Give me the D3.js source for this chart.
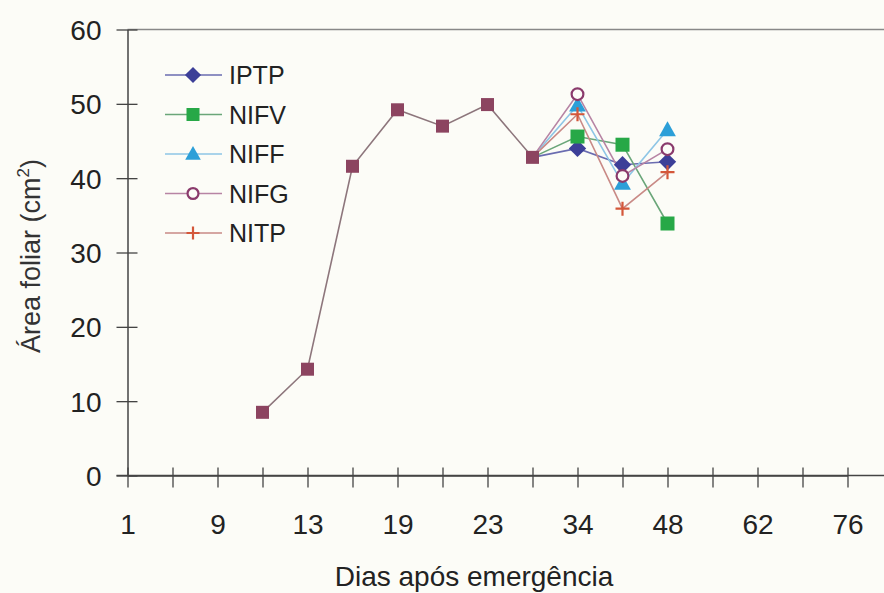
<!DOCTYPE html>
<html>
<head>
<meta charset="utf-8">
<script src="https://cdn.jsdelivr.net/npm/d3@7"></script>
<style>
  html, body { margin: 0; padding: 0; background: #fcfcf7; }
  svg { display: block; font-family: "Liberation Sans", Arial, sans-serif; }
</style>
</head>
<body>
<svg id="chart" width="884" height="593"></svg>
<script>
// Axis labels: one label on every second slot of the category axis
const tickLabels = ["1", "9", "13", "19", "23", "34", "48", "62", "76"];
const slotCount = 17;

// Readings common to all treatments (slot index on the category axis)
const sharedSlots = [3, 4, 5, 6, 7, 8, 9];
const sharedValues = [8.5, 14.3, 41.6, 49.2, 47.0, 49.9, 42.8];

// Readings after the treatments diverge
const branchSlots = [10, 11, 12];
const seriesNames = ["IPTP", "NIFV", "NIFF", "NIFG", "NITP"];
const iptpValues = [44.0, 41.8, 42.2];
const nifvValues = [45.6, 44.5, 33.9];
const niffValues = [49.8, 39.3, 46.5];
const nifgValues = [51.3, 40.3, 43.9];
const nitpValues = [48.6, 35.9, 40.8];

const yTicks = [0, 10, 20, 30, 40, 50, 60];

const styles = {
  IPTP: { color: "#3c3f98", line: "#6a6cb0", shape: "diamond" },
  NIFV: { color: "#27a847", line: "#6aa679", shape: "square" },
  NIFF: { color: "#2c9fd8", line: "#8ec6e6", shape: "triangle" },
  NIFG: { color: "#8a3a6c", line: "#b784a4", shape: "circle" },
  NITP: { color: "#d4573a", line: "#c98a86", shape: "cross" }
};
const sharedColor = "#8c4460";
const sharedLine = "#8d767c";

const seriesValues = {
  IPTP: iptpValues, NIFV: nifvValues, NIFF: niffValues,
  NIFG: nifgValues, NITP: nitpValues
};

const svg = d3.select("#chart");
const plotLeft = 127.5, plotTop = 29.5, plotBottom = 475.5, plotRight = 892;

const x = d3.scaleLinear().domain([0, slotCount - 1]).range([plotLeft, plotLeft + 45 * (slotCount - 1)]);
const y = d3.scaleLinear().domain([0, 60]).range([plotBottom, plotTop]);

const axisColor = "#444";
const textColor = "#222";

// Top frame line
svg.append("line")
  .attr("x1", plotLeft).attr("x2", plotRight).attr("y1", plotTop).attr("y2", plotTop)
  .attr("stroke", "#888").attr("stroke-width", 1.5);

// Y axis with ticks crossing the line
const yAxis = svg.append("g").attr("transform", `translate(${plotLeft},0)`)
  .call(d3.axisLeft(y).tickValues(yTicks).tickSize(0).tickPadding(26));
yAxis.select(".domain").attr("stroke", axisColor).attr("stroke-width", 1.5);
yAxis.selectAll(".tick text")
  .attr("font-size", 28).attr("fill", textColor).attr("font-family", "Liberation Sans, Arial, sans-serif")
  .attr("dy", "0.36em");
yAxis.selectAll(".tick").append("line")
  .attr("x1", -11).attr("x2", 10)
  .attr("stroke", axisColor).attr("stroke-width", 1.3);

// X axis (category slots, labelled on even slots)
const slots = d3.range(slotCount);
const xAxis = svg.append("g").attr("transform", `translate(0,${plotBottom})`)
  .call(d3.axisBottom(x).tickValues(slots).tickSize(0)
    .tickFormat(d => d % 2 === 0 ? tickLabels[d / 2] : ""));
xAxis.select(".domain").attr("stroke", axisColor).attr("stroke-width", 1.5);
xAxis.selectAll(".tick text")
  .attr("y", 58.5).attr("dy", null)
  .attr("font-size", 28).attr("fill", textColor).attr("font-family", "Liberation Sans, Arial, sans-serif");
xAxis.selectAll(".tick").append("line")
  .attr("y1", -8).attr("y2", 12)
  .attr("stroke", axisColor).attr("stroke-width", 1.3);
// extend x axis line to the left to meet the 0 tick
svg.append("line")
  .attr("x1", plotLeft - 11).attr("x2", plotRight).attr("y1", plotBottom).attr("y2", plotBottom)
  .attr("stroke", axisColor).attr("stroke-width", 1.5);

// Axis titles
svg.append("text")
  .attr("x", 474).attr("y", 586)
  .attr("text-anchor", "middle").attr("font-size", 28).attr("fill", textColor)
  .text("Dias após emergência");

const yTitle = svg.append("text")
  .attr("transform", "translate(40,256) rotate(-90)")
  .attr("text-anchor", "middle").attr("font-size", 27).attr("fill", "#333");
yTitle.append("tspan").text("Área foliar (cm");
yTitle.append("tspan").attr("font-size", 17).attr("dy", -11).text("2");
yTitle.append("tspan").attr("dy", 11).text(")");

// Marker drawing
function drawMarker(g, shape, color, size) {
  const s = size;
  if (shape === "diamond") {
    g.append("path").attr("d", `M0,${-s * 0.62}L${s * 0.62},0L0,${s * 0.62}L${-s * 0.62},0Z`).attr("fill", color);
  } else if (shape === "square") {
    g.append("rect").attr("x", -s / 2).attr("y", -s / 2).attr("width", s).attr("height", s).attr("fill", color);
  } else if (shape === "triangle") {
    g.append("path").attr("d", `M0,${-s * 0.62}L${s * 0.6},${s * 0.45}L${-s * 0.6},${s * 0.45}Z`).attr("fill", color);
  } else if (shape === "circle") {
    g.append("circle").attr("r", s * 0.42).attr("fill", "#fcfcf7").attr("stroke", color).attr("stroke-width", 2.2);
  } else if (shape === "cross") {
    g.append("path").attr("d", `M${-s / 2},0H${s / 2}M0,${-s / 2}V${s / 2}`)
      .attr("stroke", color).attr("stroke-width", 2.2).attr("fill", "none");
  }
}

const line = d3.line().x(d => x(d[0])).y(d => y(d[1]));
const plot = svg.append("g");

// Shared segment
const sharedPts = sharedSlots.map((s, i) => [s, sharedValues[i]]);
const lastShared = sharedPts[sharedPts.length - 1];

// Treatment lines from the divergence point
seriesNames.forEach(name => {
  const pts = [lastShared].concat(branchSlots.map((s, i) => [s, seriesValues[name][i]]));
  plot.append("path").attr("d", line(pts))
    .attr("fill", "none").attr("stroke", styles[name].line).attr("stroke-width", 1.6);
});
plot.append("path").attr("d", line(sharedPts))
  .attr("fill", "none").attr("stroke", sharedLine).attr("stroke-width", 1.6);

// Treatment markers
seriesNames.forEach(name => {
  branchSlots.forEach((s, i) => {
    const g = plot.append("g").attr("transform", `translate(${x(s)},${y(seriesValues[name][i])})`);
    drawMarker(g, styles[name].shape, styles[name].color, 14);
  });
});
sharedPts.forEach(p => {
  const g = plot.append("g").attr("transform", `translate(${x(p[0])},${y(p[1])})`);
  drawMarker(g, "square", sharedColor, 13);
});

// Legend
const legend = svg.append("g");
seriesNames.forEach((name, i) => {
  const cy = 75 + i * 39.5;
  const row = legend.append("g").attr("transform", `translate(0,${cy})`);
  row.append("line").attr("x1", 165).attr("x2", 222).attr("y1", 0).attr("y2", 0)
    .attr("stroke", styles[name].line).attr("stroke-width", 1.6);
  const m = row.append("g").attr("transform", "translate(193,0)");
  drawMarker(m, styles[name].shape, styles[name].color, 13);
  row.append("text").attr("x", 229).attr("y", 0).attr("dy", "0.36em")
    .attr("font-size", 25).attr("fill", textColor).text(name);
});
</script>
</body>
</html>
